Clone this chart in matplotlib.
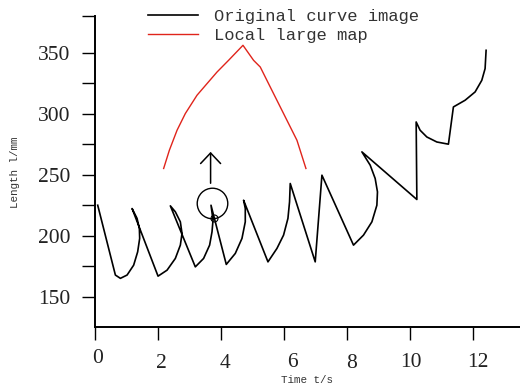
import matplotlib
matplotlib.use("Agg")
import matplotlib.pyplot as plt
from matplotlib.transforms import ScaledTranslation

# ---- data ----
curve_t = [0.086, 0.647, 0.806, 1.018, 1.227, 1.354, 1.418, 1.408, 1.335, 1.177,
           2.001, 2.287, 2.550, 2.709, 2.762, 2.709, 2.550, 2.391,
           3.184, 3.447, 3.638, 3.714, 3.746, 3.682,
           4.167, 4.453, 4.665, 4.770, 4.770, 4.716,
           5.490, 5.775, 5.985, 6.124, 6.175, 6.197,
           6.990, 7.203,
           8.205, 8.522, 8.789, 8.947, 8.966, 8.893, 8.735, 8.471,
           10.216, 10.194, 10.320, 10.533, 10.850, 11.218,
           11.376, 11.748, 12.065, 12.277, 12.382, 12.414]
curve_len = [225.0, 167.8, 165.1, 167.8, 175.9, 186.8, 197.8, 206.0, 214.2, 222.3,
             166.9, 171.8, 181.4, 192.3, 201.9, 211.4, 219.6, 224.5,
             174.5, 181.4, 192.3, 203.2, 212.8, 225.0,
             176.5, 185.5, 197.8, 211.4, 222.3, 229.1,
             178.6, 189.6, 200.5, 214.2, 227.7, 242.8,
             178.6, 249.6,
             192.3, 200.5, 211.4, 225.0, 235.9, 246.9, 257.8, 268.7,
             229.7, 293.2, 286.4, 280.9, 276.8, 275.0,
             305.5, 311.0, 317.8, 327.3, 336.9, 351.9]

local_t = [2.179, 2.360, 2.604, 2.867, 3.238, 3.555, 3.873, 4.240, 4.697,
           5.033, 5.246, 5.509, 5.985, 6.410, 6.695]
local_len = [255.1, 270.0, 286.4, 300.1, 315.1, 324.6, 334.1, 343.7, 356.0,
             343.7, 338.2, 324.6, 300.1, 278.2, 255.1]

circle_t, circle_len = [3.714], [226.7]
loop_t, loop_len = [3.771], [214.4]
arrow_t = 3.669
arrow_from, arrow_to = 243.0, 268.7

x_ticks = [0, 2, 4, 6, 8, 10, 12]
x_labels = ["0", "2", "4", "6", "8", "10", "12"]
y_major = [150, 200, 250, 300, 350]
y_minor = [175, 225, 275, 325, 380]
y_labels = ["150", "200", "250", "300", "350"]

series_names = ["Original curve image", "Local large map"]

# per-label nudges (points) to mimic the hand-placed tick labels
x_label_nudge = [(2.2, 4.0), (2.4, 0), (2.9, 0), (5.8, 1.2), (3.6, 0), (0.7, 1.2), (3.6, 1.2)]

# ---- figure ----
fig = plt.figure(figsize=(5.2, 3.89), dpi=100)
ax = fig.add_axes([95/520, 1 - 327.3/389, (520 - 95)/520, (327.3 - 16)/389])

l1, = ax.plot(curve_t, curve_len, color="black", lw=1.2, solid_joinstyle="round")
l2, = ax.plot(local_t, local_len, color="#e0241b", lw=1.0)
ax.plot(circle_t, circle_len, "o", mfc="none", mec="black", ms=22, mew=1.0)
ax.plot(loop_t, loop_len, "o", mfc="none", mec="black", ms=5, mew=0.8)
ax.annotate("", xy=(arrow_t, arrow_to), xytext=(arrow_t, arrow_from),
            arrowprops=dict(arrowstyle="->,head_length=0.38,head_width=0.36",
                            color="black", lw=1.1, shrinkA=0, shrinkB=0,
                            mutation_scale=20))

ax.set_xlim(0.01, 13.49)
ax.set_ylim(125, 380)

for s in ["top", "right"]:
    ax.spines[s].set_visible(False)
for s in ["left", "bottom"]:
    ax.spines[s].set_linewidth(1.4)

tick_font = dict(family="Liberation Serif", size=15.5)
ax.set_xticks(x_ticks)
ax.set_xticklabels(x_labels, fontdict=tick_font, color="#222222")
ax.set_yticks(y_major)
ax.set_yticklabels(y_labels, fontdict=tick_font, color="#222222")
ax.set_yticks(y_minor, minor=True)
ax.tick_params(axis="both", which="both", direction="out", length=9.5, width=1.0)
ax.tick_params(axis="x", pad=10)
ax.tick_params(axis="y", pad=8)
for lab, (dx, dy) in zip(ax.get_xticklabels(), x_label_nudge):
    lab.set_transform(lab.get_transform() + ScaledTranslation(dx/72, dy/72, fig.dpi_scale_trans))

mono = "Liberation Mono"
ax.set_xlabel("Time t/s", family=mono, fontsize=7.8, color="#333333", va="center")
ax.xaxis.set_label_coords(0.498, -0.169)
ax.set_ylabel("Length l/mm", family=mono, fontsize=7.8, color="#333333", va="center")
ax.yaxis.set_label_coords(-0.188, 0.497)

leg = ax.legend([l1, l2], series_names, loc="upper left",
                bbox_to_anchor=(147.7/520, 1 - 9/389), bbox_transform=fig.transFigure,
                frameon=False, borderpad=0, borderaxespad=0,
                handlelength=2.95, handletextpad=0.95, labelspacing=0.22,
                prop=dict(family=mono, size=12.3))
for t in leg.get_texts():
    t.set_color("#333333")

fig.savefig("out.png", dpi=100)
